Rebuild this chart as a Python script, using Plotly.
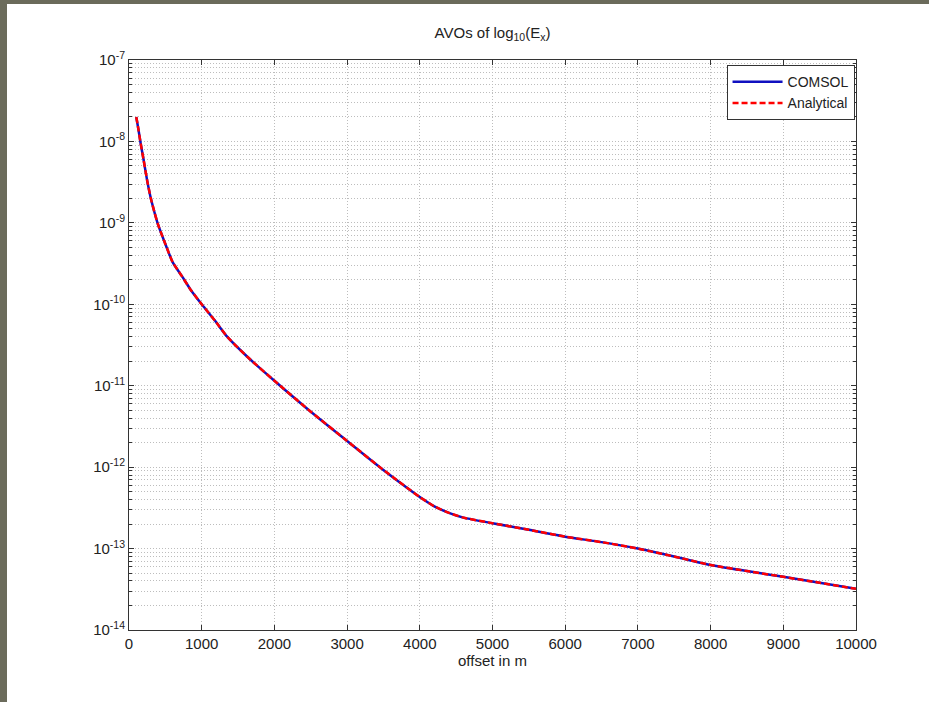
import plotly.graph_objects as go

# offsets (m) and field amplitudes
offset_m = [100, 130, 160, 200, 250, 300, 350, 400, 500, 600, 730, 850, 1000, 1200,
            1350, 1620, 2000, 2500, 3000, 3450, 3800, 4000, 4200, 4400, 4600, 5000,
            5500, 6000, 6500, 7000, 7600, 8000, 8500, 9000, 9500, 10000]
comsol_ex = [2.0e-8, 1.4e-8, 9.5e-9, 6.0e-9, 3.3e-9, 2.0e-9, 1.35e-9, 9.5e-10, 5.5e-10,
             3.3e-10, 2.2e-10, 1.5e-10, 1.0e-10, 6.0e-11, 4.0e-11, 2.3e-11, 1.15e-11,
             4.8e-12, 2.1e-12, 1.0e-12, 5.8e-13, 4.3e-13, 3.3e-13, 2.75e-13, 2.4e-13,
             2.05e-13, 1.7e-13, 1.4e-13, 1.2e-13, 1.0e-13, 7.6e-14, 6.3e-14, 5.3e-14,
             4.5e-14, 3.8e-14, 3.2e-14]
analytical_ex = [2.0e-8, 1.4e-8, 9.5e-9, 6.0e-9, 3.3e-9, 2.0e-9, 1.35e-9, 9.5e-10, 5.5e-10,
                 3.3e-10, 2.2e-10, 1.5e-10, 1.0e-10, 6.0e-11, 4.0e-11, 2.3e-11, 1.15e-11,
                 4.8e-12, 2.1e-12, 1.0e-12, 5.8e-13, 4.3e-13, 3.3e-13, 2.75e-13, 2.4e-13,
                 2.05e-13, 1.7e-13, 1.4e-13, 1.2e-13, 1.0e-13, 7.6e-14, 6.3e-14, 5.3e-14,
                 4.5e-14, 3.8e-14, 3.2e-14]

x_ticks = [0, 1000, 2000, 3000, 4000, 5000, 6000, 7000, 8000, 9000, 10000]
x_tick_text = ["0", "1000", "2000", "3000", "4000", "5000", "6000", "7000", "8000",
               "9000", "10000"]
y_tick_vals = [1e-14, 1e-13, 1e-12, 1e-11, 1e-10, 1e-9, 1e-8, 1e-7]
y_tick_text = ["10<sup>-14</sup>", "10<sup>-13</sup>", "10<sup>-12</sup>", "10<sup>-11</sup>",
               "10<sup>-10</sup>", "10<sup>-9</sup>", "10<sup>-8</sup>", "10<sup>-7</sup>"]

FONT = "Liberation Sans, Arial, sans-serif"
GRID = "#bdbdbd"
DOT = "1px,2px"

fig = go.Figure()
fig.add_trace(go.Scatter(x=offset_m, y=comsol_ex, mode="lines", name="COMSOL",
                         line=dict(color="#1010c0", width=2.5, shape="spline",
                                   smoothing=0.6)))
fig.add_trace(go.Scatter(x=offset_m, y=analytical_ex, mode="lines", name="Analytical",
                         line=dict(color="#ff0000", width=2.5, dash="6px,3px",
                                   shape="spline", smoothing=0.6)))

fig.update_layout(
    width=929, height=702,
    margin=dict(l=129, r=73, t=60, b=72),
    paper_bgcolor="white", plot_bgcolor="white",
    font=dict(family=FONT, size=15, color="#222"),
    title=dict(text="AVOs of log<sub>10</sub>(E<sub>x</sub>)", x=0.5, xref="paper",
               xanchor="center", y=1 - 33 / 702, yanchor="middle",
               font=dict(family=FONT, size=15, color="#222")),
    showlegend=True,
    legend=dict(x=0.998, xanchor="right", y=0.991, yanchor="top",
                bgcolor="white", bordercolor="#333", borderwidth=1,
                font=dict(family=FONT, size=14, color="#222"),
                tracegroupgap=0, itemwidth=50),
    xaxis=dict(range=[0, 10000], tickvals=x_ticks, ticktext=x_tick_text,
               ticks="inside", ticklen=5,
               tickcolor="#333", showline=True, linecolor="#333", linewidth=1,
               mirror="ticks", showgrid=True, gridcolor=GRID, griddash=DOT,
               gridwidth=1, zeroline=False,
               tickfont=dict(family=FONT, size=15, color="#222"),
               title=dict(text="offset in m", standoff=2,
                          font=dict(family=FONT, size=15, color="#222"))),
    yaxis=dict(type="log", range=[-14, -7], tickvals=y_tick_vals, ticktext=y_tick_text,
               ticks="inside", ticklen=5, tickcolor="#333", showline=True,
               linecolor="#333", linewidth=1, mirror="ticks", showgrid=True,
               gridcolor=GRID, griddash=DOT, gridwidth=1, zeroline=False,
               tickfont=dict(family=FONT, size=15, color="#222"),
               minor=dict(dtick="D1", ticks="inside", ticklen=3, tickcolor="#333",
                          showgrid=True, gridcolor=GRID, griddash=DOT, gridwidth=1)),
    shapes=[
        dict(type="rect", xref="paper", yref="paper", x0=-0.2, x1=1.2,
             y0=1 + 56 / 570, y1=1.2, fillcolor="#6b6b5b", line=dict(width=0), layer="below"),
        dict(type="rect", xref="paper", yref="paper", x0=-0.2, x1=-122 / 727,
             y0=-0.2, y1=1.2, fillcolor="#6b6b5b", line=dict(width=0), layer="below"),
    ],
)

fig.write_html("out.html", config={"displayModeBar": False},
               post_script="document.body.style.margin='0px';document.body.style.overflow='hidden';")
